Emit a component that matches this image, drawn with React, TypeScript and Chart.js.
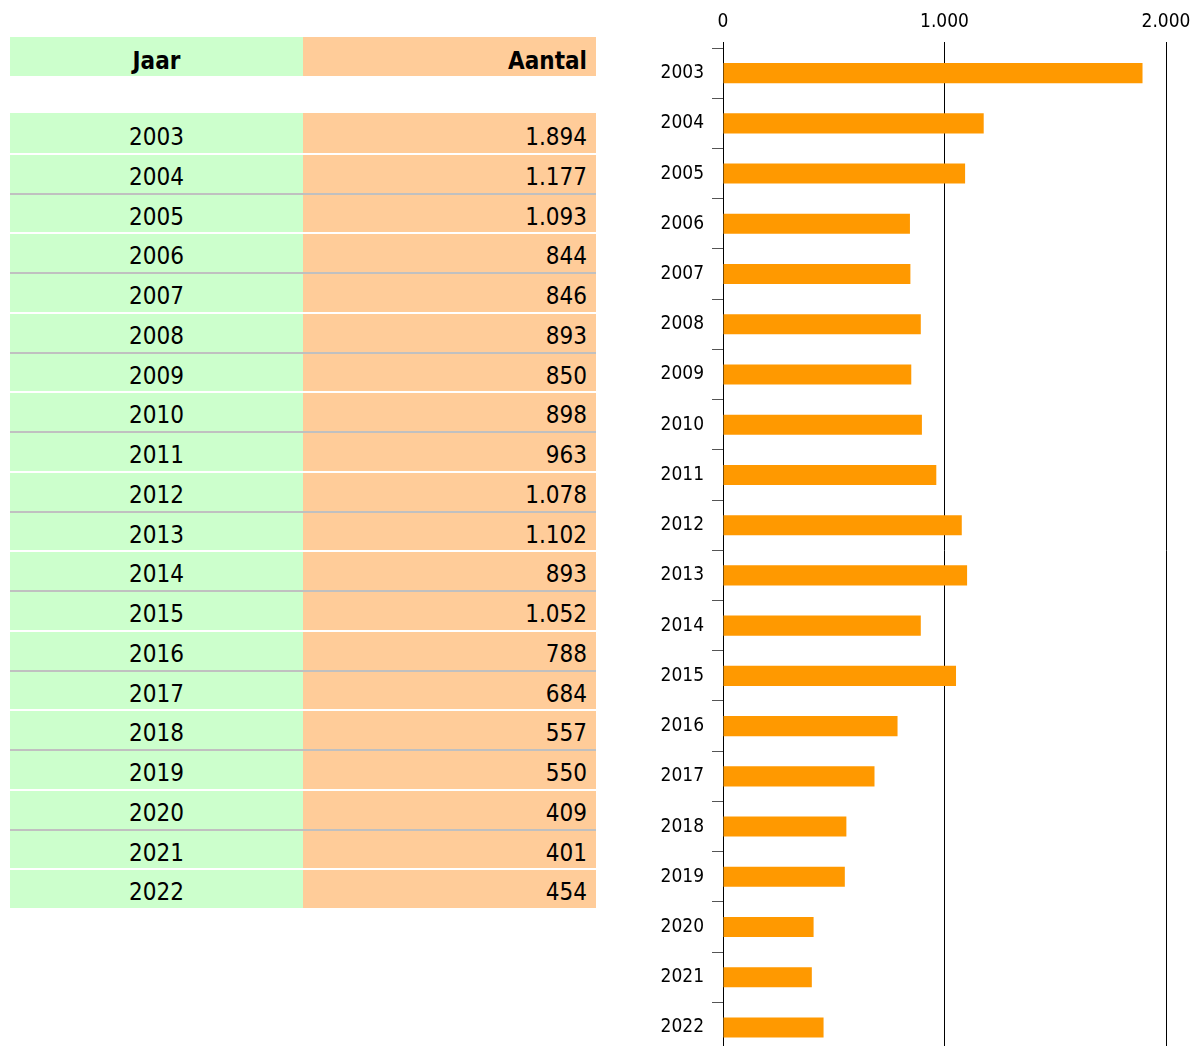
import React, { useEffect, useRef } from "react";
import { Chart, registerables } from "chart.js";

Chart.register(...registerables);

const years: string[] = [
  "2003", "2004", "2005", "2006", "2007", "2008", "2009", "2010", "2011", "2012",
  "2013", "2014", "2015", "2016", "2017", "2018", "2019", "2020", "2021", "2022",
];
const counts: number[] = [
  1894, 1177, 1093, 844, 846, 893, 850, 898, 963, 1078,
  1102, 893, 1052, 788, 684, 557, 550, 409, 401, 454,
];
const xTicks: number[] = [0, 1000, 2000];
const headerLabels: string[] = ["Jaar", "Aantal"];

const FONT = "'DejaVu Sans Condensed', 'DejaVu Sans', sans-serif";

function fmt(n: number): string {
  return n.toString().replace(/\B(?=(\d{3})+(?!\d))/g, ".");
}

const GREEN = "#CCFFCC";
const ORANGE = "#FFCC99";

function Table() {
  const rowH = 39.75;
  const top0 = 113;
  return (
    <div style={{ fontFamily: FONT, color: "#000" }}>
      <div style={{ position: "absolute", left: 10, top: 37, width: 293, height: 39, background: GREEN, fontWeight: "bold", fontSize: 24, textAlign: "center", lineHeight: "48px", overflow: "hidden" }}>
        {headerLabels[0]}
      </div>
      <div style={{ position: "absolute", left: 303, top: 37, width: 284, paddingRight: 9, height: 39, background: ORANGE, fontWeight: "bold", fontSize: 24, textAlign: "right", lineHeight: "48px", overflow: "hidden" }}>
        {headerLabels[1]}
      </div>
      {years.map((y, i) => {
        const top = top0 + i * rowH;
        const border = i === 0 ? "none" : `2px solid ${i % 2 === 1 ? "#FFFFFF" : "#C0C0C0"}`;
        const common: React.CSSProperties = {
          position: "absolute",
          top,
          height: rowH,
          boxSizing: "border-box",
          borderTop: border,
          fontSize: 24,
          lineHeight: i === 0 ? "48px" : "45px",
          overflow: "hidden",
        };
        return (
          <React.Fragment key={y}>
            <div style={{ ...common, left: 10, width: 293, background: GREEN, textAlign: "center" }}>{y}</div>
            <div style={{ ...common, left: 303, width: 293, paddingRight: 9, background: ORANGE, textAlign: "right" }}>{fmt(counts[i])}</div>
          </React.Fragment>
        );
      })}
    </div>
  );
}

function BarChart() {
  const ref = useRef<HTMLCanvasElement | null>(null);
  useEffect(() => {
    if (!ref.current) return;
    const chart = new Chart(ref.current, {
      type: "bar",
      data: {
        labels: years,
        datasets: [
          {
            data: counts,
            backgroundColor: "#FF9900",
            borderWidth: 0,
            barPercentage: 0.4,
            categoryPercentage: 1,
          },
        ],
      },
      options: {
        indexAxis: "y",
        animation: false,
        responsive: false,
        maintainAspectRatio: false,
        layout: { padding: { left: 0, right: 35, top: 0, bottom: 0 } },
        plugins: { legend: { display: false }, tooltip: { enabled: false } },
        scales: {
          x: {
            position: "top",
            min: 0,
            max: 2000,
            afterBuildTicks: (axis: any) => {
              axis.ticks = xTicks.map((v) => ({ value: v }));
            },
            afterFit: (axis: any) => {
              axis.height = 48;
            },
            ticks: {
              color: "#000",
              font: { family: FONT, size: 19 },
              padding: 9,
              maxRotation: 0,
              callback: (v: any) => fmt(Number(v)),
            },
            grid: { color: "#000", lineWidth: 1, tickLength: 6, drawTicks: true },
            border: { display: false },
          },
          y: {
            afterFit: (axis: any) => {
              axis.width = 83;
            },
            ticks: {
              color: "#000",
              font: { family: FONT, size: 19 },
              padding: 8,
            },
            grid: { drawOnChartArea: false, tickLength: 11, color: "#555", offset: true },
            border: { display: true, color: "#000", width: 1 },
          },
        },
      },
    });
    return () => chart.destroy();
  }, []);
  return (
    <div style={{ position: "absolute", left: 640, top: 0, width: 561, height: 1072 }}>
      <canvas ref={ref} width={561} height={1072} style={{ width: 561, height: 1072, display: "block" }} />
    </div>
  );
}

export default function App() {
  return (
    <div>
      <Table />
      <BarChart />
    </div>
  );
}
